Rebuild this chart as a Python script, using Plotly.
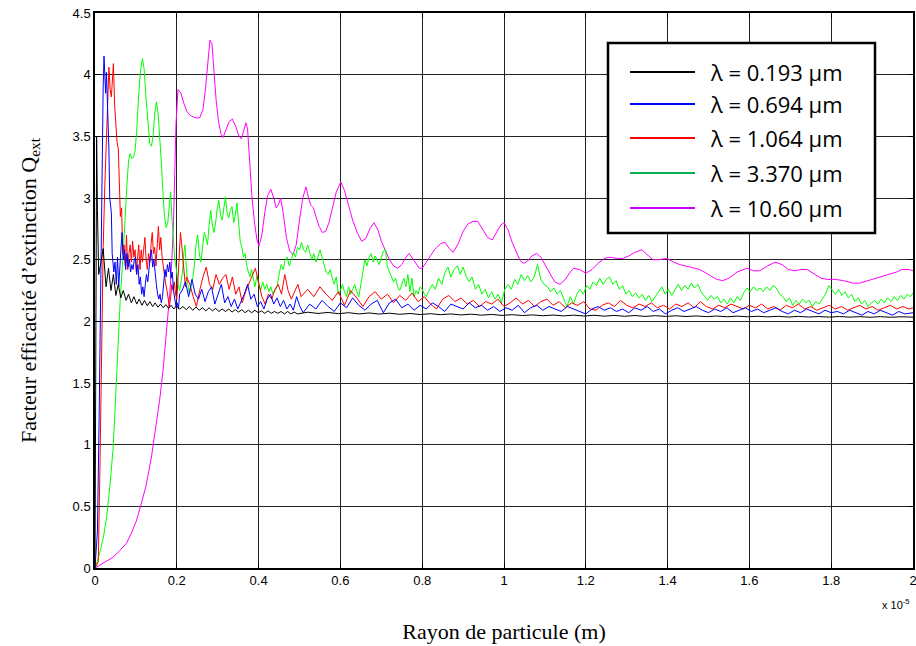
import plotly.graph_objects as go

# ---------------- data (radius in units of 1e-5 m, Q_ext) ----------------
r_black = [0, 0.002, 0.004, 0.006, 0.009, 0.013, 0.020, 0.027, 0.033, 0.039, 0.045, 0.051, 0.057, 0.063,
           0.069, 0.076, 0.082, 0.089, 0.095, 0.102, 0.108, 0.115, 0.121, 0.128, 0.134, 0.141, 0.147,
           0.154, 0.160, 0.167, 0.173, 0.180, 0.186, 0.193, 0.199, 0.207, 0.215, 0.223, 0.231, 0.239,
           0.247, 0.255, 0.263, 0.271, 0.279, 0.287, 0.295, 0.303, 0.311, 0.319, 0.327, 0.335, 0.343,
           0.351, 0.359, 0.367, 0.375, 0.383, 0.391, 0.399, 0.407, 0.415, 0.423, 0.431, 0.439, 0.447,
           0.455, 0.463, 0.471, 0.479, 0.487, 0.495,
           0.52, 0.545, 0.57, 0.595, 0.62, 0.645, 0.67, 0.695, 0.72, 0.745, 0.77, 0.795, 0.82, 0.845,
           0.87, 0.895, 0.92, 0.945, 0.97, 0.995, 1.02, 1.045, 1.07, 1.095, 1.12, 1.145, 1.17, 1.195,
           1.22, 1.245, 1.27, 1.295, 1.32, 1.345, 1.37, 1.395, 1.42, 1.445, 1.47, 1.495, 1.52, 1.545,
           1.57, 1.595, 1.62, 1.645, 1.67, 1.695, 1.72, 1.745, 1.77, 1.795, 1.82, 1.845, 1.87, 1.895,
           1.92, 1.945, 1.97, 2.0]
q_black = [0, 1.6, 3.5, 2.9, 2.38, 2.45, 2.59, 2.28, 2.43, 2.25, 2.38, 2.21, 2.30, 2.19,
           2.25, 2.17, 2.22, 2.15, 2.20, 2.14, 2.18, 2.13, 2.17, 2.125, 2.16, 2.12, 2.15,
           2.115, 2.14, 2.11, 2.135, 2.105, 2.13, 2.10, 2.125, 2.10, 2.12, 2.095, 2.12, 2.09,
           2.115, 2.09, 2.11, 2.085, 2.11, 2.085, 2.105, 2.08, 2.10, 2.08, 2.10, 2.075, 2.095,
           2.075, 2.095, 2.07, 2.09, 2.07, 2.09, 2.07, 2.085, 2.065, 2.085, 2.065, 2.08, 2.065,
           2.08, 2.06, 2.08, 2.06, 2.075, 2.06,
           2.074, 2.064, 2.072, 2.062, 2.070, 2.060, 2.068, 2.059, 2.066, 2.057, 2.064, 2.055, 2.062, 2.054,
           2.060, 2.052, 2.058, 2.050, 2.056, 2.048, 2.054, 2.047, 2.052, 2.045, 2.051, 2.044, 2.050, 2.043,
           2.049, 2.042, 2.048, 2.041, 2.047, 2.040, 2.046, 2.040, 2.045, 2.039, 2.044, 2.038, 2.043, 2.037,
           2.042, 2.037, 2.041, 2.036, 2.041, 2.035, 2.040, 2.035, 2.039, 2.034, 2.039, 2.034, 2.038, 2.033,
           2.038, 2.033, 2.037, 2.034]

r_blue = [0, 0.006, 0.010, 0.014, 0.017, 0.020, 0.022, 0.024, 0.026, 0.028, 0.030, 0.032, 0.034, 0.036,
          0.038, 0.040, 0.042, 0.044,
          0.046, 0.049, 0.052, 0.055, 0.058, 0.061, 0.064, 0.066, 0.069, 0.072, 0.075, 0.078, 0.081,
          0.084, 0.087, 0.090, 0.093, 0.096, 0.099, 0.102, 0.105, 0.108, 0.111, 0.114, 0.117, 0.120,
          0.123, 0.126, 0.129, 0.132, 0.135, 0.138, 0.141, 0.144, 0.147, 0.150, 0.153, 0.156, 0.159,
          0.162, 0.165, 0.168, 0.171, 0.174, 0.177, 0.180, 0.183, 0.186, 0.189, 0.192, 0.195, 0.198,
          0.201, 0.204, 0.207,
          0.213, 0.221, 0.229, 0.237, 0.245, 0.253, 0.261, 0.269, 0.277, 0.285, 0.293, 0.301, 0.309,
          0.317, 0.325, 0.333, 0.341, 0.349, 0.357, 0.365, 0.373, 0.381, 0.389, 0.397, 0.405, 0.413,
          0.421, 0.429, 0.437, 0.445, 0.453, 0.461, 0.469, 0.477, 0.485, 0.493, 0.501, 0.509,
          0.525, 0.540, 0.555, 0.570, 0.585, 0.600, 0.615, 0.630, 0.645, 0.660, 0.675, 0.690, 0.705,
          0.720, 0.735, 0.750, 0.765, 0.780, 0.795, 0.810, 0.825, 0.840, 0.855, 0.870, 0.885, 0.900,
          0.915, 0.930, 0.945, 0.960, 0.975, 0.990, 1.005, 1.020, 1.035, 1.050, 1.065, 1.080, 1.095,
          1.110, 1.125, 1.140, 1.155, 1.170, 1.185, 1.200, 1.215, 1.230, 1.245, 1.260, 1.275, 1.290,
          1.305, 1.320, 1.335, 1.350, 1.365, 1.380, 1.395, 1.410, 1.425, 1.440, 1.455, 1.470, 1.485,
          1.500, 1.515, 1.530, 1.545, 1.560, 1.575, 1.590, 1.605, 1.620, 1.635, 1.650, 1.665, 1.680,
          1.695, 1.710, 1.725, 1.740, 1.755, 1.770, 1.785, 1.800, 1.815, 1.830, 1.845, 1.860, 1.875,
          1.890, 1.905, 1.920, 1.935, 1.950, 1.965, 1.980, 2.000]
q_blue = [0, 0.3, 1.2, 2.4, 3.3, 3.9, 4.15, 4.0, 3.85, 4.02, 3.84, 3.5, 3.40, 3.0,
          2.93, 2.88, 2.55, 2.48,
          2.40, 2.48, 2.30, 2.52, 2.28, 2.45, 2.62, 2.72, 2.50, 2.58, 2.42, 2.55, 2.44,
          2.50, 2.40, 2.46, 2.42, 2.50, 2.52, 2.38, 2.46, 2.30, 2.36, 2.22, 2.28, 2.20,
          2.30, 2.38, 2.32, 2.45, 2.52, 2.58, 2.44, 2.50, 2.36, 2.30, 2.22, 2.18, 2.22,
          2.15, 2.20, 2.30, 2.42, 2.36, 2.46, 2.40, 2.48, 2.35, 2.40, 2.25, 2.18, 2.12,
          2.15, 2.10, 2.22,
          2.25, 2.32, 2.20, 2.34, 2.22, 2.18, 2.26, 2.16, 2.24, 2.28, 2.14, 2.22, 2.30,
          2.15, 2.20, 2.12, 2.18, 2.10, 2.16, 2.22, 2.30, 2.18, 2.22, 2.12, 2.16, 2.10,
          2.18, 2.22, 2.14, 2.19, 2.12, 2.17, 2.10, 2.14, 2.09, 2.20, 2.12, 2.07,
          2.14, 2.10, 2.17, 2.12, 2.08, 2.15, 2.11, 2.19, 2.13, 2.09, 2.14, 2.17, 2.07,
          2.15, 2.18, 2.11, 2.14, 2.09, 2.13, 2.10, 2.15, 2.12, 2.08, 2.14, 2.12, 2.10,
          2.15, 2.11, 2.13, 2.09, 2.12, 2.08, 2.11, 2.09, 2.13, 2.07, 2.11, 2.13, 2.09,
          2.12, 2.10, 2.08, 2.12, 2.10, 2.08, 2.06, 2.10, 2.12, 2.09, 2.11, 2.08, 2.10,
          2.07, 2.11, 2.09, 2.12, 2.08, 2.10, 2.06, 2.09, 2.11, 2.08, 2.10, 2.12, 2.09,
          2.07, 2.10, 2.08, 2.11, 2.07, 2.09, 2.11, 2.08, 2.10, 2.07, 2.09, 2.11, 2.08,
          2.06, 2.09, 2.07, 2.10, 2.08, 2.06, 2.09, 2.07, 2.08, 2.06, 2.09, 2.07, 2.05,
          2.08, 2.06, 2.09, 2.07, 2.05, 2.08, 2.06, 2.07]

r_red = [0, 0.008, 0.012, 0.016, 0.020, 0.024, 0.028, 0.031, 0.034, 0.037, 0.040, 0.043, 0.045, 0.048,
         0.051, 0.054, 0.057, 0.060, 0.062, 0.065, 0.068, 0.071,
         0.074, 0.077, 0.080, 0.083, 0.086, 0.089, 0.092, 0.095, 0.098, 0.101, 0.104, 0.107, 0.110,
         0.113, 0.116, 0.119, 0.122, 0.125, 0.128, 0.131, 0.134, 0.137, 0.140, 0.143, 0.146, 0.149,
         0.152, 0.155, 0.158, 0.161, 0.164, 0.167, 0.170, 0.173, 0.176, 0.179, 0.182, 0.185, 0.188,
         0.191, 0.194, 0.197, 0.200, 0.203, 0.206, 0.209, 0.212, 0.215, 0.218, 0.221,
         0.224, 0.232, 0.240, 0.248, 0.256, 0.264, 0.272, 0.280, 0.288, 0.296, 0.304, 0.312, 0.320,
         0.328, 0.336, 0.344, 0.352, 0.360, 0.368, 0.376, 0.384, 0.392, 0.400, 0.408, 0.416, 0.424,
         0.432, 0.440, 0.448, 0.456, 0.464, 0.472, 0.480, 0.488, 0.496, 0.504,
         0.520, 0.535, 0.550, 0.565, 0.580, 0.595, 0.610, 0.625, 0.640, 0.655, 0.670, 0.685, 0.700,
         0.715, 0.730, 0.745, 0.760, 0.775, 0.790, 0.805, 0.820, 0.835, 0.850, 0.865, 0.880, 0.895,
         0.910, 0.925, 0.940, 0.955, 0.970, 0.985, 1.000, 1.015, 1.030, 1.045, 1.060, 1.075, 1.090,
         1.105, 1.120, 1.135, 1.150, 1.165, 1.180, 1.195, 1.210, 1.225, 1.240, 1.255, 1.270, 1.285,
         1.300, 1.315, 1.330, 1.345, 1.360, 1.375, 1.390, 1.405, 1.420, 1.435, 1.450, 1.465, 1.480,
         1.495, 1.510, 1.525, 1.540, 1.555, 1.570, 1.585, 1.600, 1.615, 1.630, 1.645, 1.660, 1.675,
         1.690, 1.705, 1.720, 1.735, 1.750, 1.765, 1.780, 1.795, 1.810, 1.825, 1.840, 1.855, 1.870,
         1.885, 1.900, 1.915, 1.930, 1.945, 1.960, 1.975, 1.990, 2.000]
q_red = [0, 0.05, 0.8, 1.8, 2.6, 3.1, 3.5, 3.85, 4.06, 3.88, 3.82, 3.98, 4.09, 3.75,
         3.55, 3.45, 3.40, 3.05, 2.85, 2.92, 2.55, 2.62,
         2.45, 2.70, 2.42, 2.55, 2.62, 2.48, 2.65, 2.52, 2.58, 2.40, 2.55, 2.62, 2.42,
         2.58, 2.48, 2.60, 2.68, 2.50, 2.42, 2.55, 2.48, 2.62, 2.72, 2.55, 2.60, 2.45,
         2.62, 2.77, 2.58, 2.68, 2.52, 2.44, 2.38, 2.30, 2.25, 2.18, 2.12, 2.20, 2.30,
         2.25, 2.32, 2.22, 2.18, 2.35, 2.55, 2.72, 2.62, 2.50, 2.35, 2.28,
         2.36, 2.30, 2.20, 2.12, 2.25, 2.36, 2.44, 2.30, 2.26, 2.38, 2.30, 2.35, 2.38,
         2.26, 2.36, 2.22, 2.28, 2.15, 2.24, 2.30, 2.36, 2.43, 2.32, 2.20, 2.14, 2.22,
         2.18, 2.26, 2.30, 2.22, 2.38, 2.25, 2.18, 2.24, 2.30, 2.20,
         2.26, 2.20, 2.28, 2.22, 2.17, 2.24, 2.13, 2.25, 2.19, 2.12, 2.20, 2.24, 2.18,
         2.22, 2.15, 2.21, 2.17, 2.23, 2.16, 2.20, 2.14, 2.10, 2.18, 2.21, 2.16, 2.19,
         2.14, 2.17, 2.12, 2.16, 2.14, 2.18, 2.12, 2.15, 2.19, 2.14, 2.17, 2.12, 2.16,
         2.18, 2.13, 2.16, 2.11, 2.15, 2.13, 2.16, 2.10, 2.09, 2.13, 2.15, 2.12, 2.17,
         2.13, 2.11, 2.14, 2.12, 2.15, 2.11, 2.13, 2.10, 2.14, 2.12, 2.15, 2.11, 2.16,
         2.12, 2.10, 2.13, 2.11, 2.14, 2.12, 2.10, 2.13, 2.11, 2.14, 2.10, 2.12, 2.09,
         2.13, 2.11, 2.14, 2.10, 2.12, 2.09, 2.11, 2.13, 2.10, 2.12, 2.09, 2.11, 2.13,
         2.10, 2.12, 2.09, 2.11, 2.13, 2.10, 2.12, 2.10, 2.11]

r_green = [0, 0.010, 0.020, 0.028, 0.036, 0.044, 0.050, 0.056, 0.062, 0.068, 0.073, 0.078, 0.082,
           0.086, 0.090, 0.094, 0.098, 0.102, 0.107, 0.112, 0.116, 0.120, 0.125, 0.130, 0.134, 0.138,
           0.142, 0.146, 0.150, 0.154, 0.158, 0.162, 0.166, 0.170, 0.174, 0.178, 0.182, 0.185, 0.188,
           0.191, 0.195, 0.199, 0.203, 0.207, 0.211, 0.214, 0.217, 0.220, 0.223, 0.227, 0.231, 0.235,
           0.239, 0.243, 0.247, 0.251, 0.255, 0.259, 0.263, 0.267, 0.271, 0.275, 0.279, 0.283, 0.287,
           0.291, 0.295, 0.299, 0.303, 0.307, 0.311, 0.315, 0.319, 0.323, 0.327, 0.331, 0.335, 0.339,
           0.343, 0.347, 0.351, 0.355, 0.359, 0.363, 0.367, 0.371, 0.375, 0.379, 0.383, 0.387, 0.391,
           0.396, 0.400, 0.405, 0.410, 0.415, 0.420, 0.425, 0.430, 0.435, 0.440, 0.445, 0.450, 0.455,
           0.460, 0.465, 0.470, 0.475, 0.480, 0.485, 0.490, 0.495, 0.500, 0.505, 0.510, 0.515, 0.520,
           0.525, 0.530, 0.535, 0.540, 0.545, 0.550, 0.555, 0.560, 0.565, 0.570, 0.575, 0.580, 0.585,
           0.590, 0.595, 0.600, 0.605, 0.610, 0.615, 0.620, 0.625, 0.630, 0.635, 0.640, 0.645, 0.650,
           0.655, 0.660, 0.665, 0.670, 0.675, 0.680, 0.685, 0.690, 0.695, 0.700, 0.705, 0.710, 0.715,
           0.720, 0.725, 0.730, 0.735, 0.740, 0.745, 0.750, 0.755, 0.760, 0.765, 0.770, 0.775, 0.780,
           0.785, 0.790, 0.795, 0.800, 0.805, 0.810, 0.815,
           0.825, 0.832, 0.840, 0.848, 0.856, 0.863, 0.870, 0.878, 0.886, 0.893, 0.900, 0.908, 0.915,
           0.922, 0.930, 0.938, 0.946, 0.954, 0.962, 0.970, 0.978, 0.986, 0.994, 1.002, 1.010, 1.018,
           1.026, 1.034, 1.042, 1.050, 1.058, 1.066, 1.074, 1.082, 1.090, 1.098, 1.106, 1.114, 1.122,
           1.130, 1.138, 1.146, 1.154, 1.162, 1.170, 1.178, 1.186, 1.194, 1.202, 1.210, 1.218, 1.226,
           1.234, 1.242, 1.250, 1.258, 1.266, 1.274, 1.282, 1.290, 1.298, 1.306, 1.314, 1.322, 1.330,
           1.338, 1.346, 1.354, 1.362, 1.370, 1.378, 1.386, 1.394, 1.402, 1.410, 1.418, 1.426, 1.434,
           1.442, 1.450, 1.458, 1.466, 1.474, 1.482, 1.490, 1.498, 1.506, 1.514, 1.522, 1.530, 1.538,
           1.546, 1.554, 1.562, 1.570, 1.578, 1.586, 1.594, 1.602, 1.610, 1.618, 1.626, 1.634, 1.642,
           1.650, 1.658, 1.666, 1.674, 1.682, 1.690, 1.698, 1.706, 1.714, 1.722, 1.730, 1.738, 1.746,
           1.754, 1.762, 1.770, 1.778, 1.786, 1.794, 1.802, 1.810, 1.818, 1.826, 1.834, 1.842, 1.850,
           1.858, 1.866, 1.874, 1.882, 1.890, 1.898, 1.906, 1.914, 1.922, 1.930, 1.938, 1.946, 1.954,
           1.962, 1.970, 1.978, 1.986, 1.994, 2.000]
q_green = [0.00, 0.10, 0.24, 0.40, 0.65, 0.96, 1.35, 1.83, 2.20, 2.50, 2.85, 3.10, 3.30,
           3.36, 3.32, 3.33, 3.38, 3.55, 3.85, 4.05, 4.13, 4.05, 3.80, 3.55, 3.44, 3.42,
           3.50, 3.68, 3.78, 3.70, 3.52, 3.30, 3.05, 2.85, 2.76, 2.80, 2.95, 3.05, 2.85,
           2.65, 2.50, 2.42, 2.30, 2.25, 2.32, 2.40, 2.55, 2.62, 2.45, 2.30, 2.22, 2.28,
           2.35, 2.45, 2.62, 2.70, 2.55, 2.48, 2.58, 2.72, 2.68, 2.62, 2.78, 2.90, 2.78,
           2.72, 2.80, 2.92, 2.98, 2.86, 2.82, 2.93, 3.01, 2.88, 2.84, 2.90, 2.93, 2.80,
           2.86, 2.96, 2.82, 2.65, 2.60, 2.52, 2.55, 2.45, 2.40, 2.36, 2.42, 2.35, 2.28,
           2.37, 2.30, 2.25, 2.32, 2.26, 2.30, 2.24, 2.28, 2.22, 2.25, 2.28, 2.38, 2.46,
           2.42, 2.50, 2.52, 2.45, 2.50, 2.56, 2.52, 2.60, 2.58, 2.64, 2.58, 2.56, 2.62,
           2.55, 2.50, 2.55, 2.48, 2.52, 2.58, 2.52, 2.45, 2.40, 2.38, 2.42, 2.35, 2.30,
           2.36, 2.22, 2.25, 2.30, 2.24, 2.20, 2.28, 2.22, 2.26, 2.30, 2.24, 2.20, 2.30,
           2.42, 2.50, 2.45, 2.52, 2.55, 2.48, 2.53, 2.50, 2.46, 2.52, 2.57, 2.58, 2.44,
           2.40, 2.36, 2.32, 2.35, 2.28, 2.25, 2.30, 2.35, 2.28, 2.38, 2.24, 2.35, 2.20,
           2.25, 2.22, 2.28, 2.26, 2.22, 2.20, 2.24,
           2.30, 2.26, 2.35, 2.30, 2.40, 2.44, 2.36, 2.42, 2.45, 2.38, 2.44, 2.36, 2.32,
           2.36, 2.26, 2.30, 2.22, 2.26, 2.19, 2.24, 2.18, 2.22, 2.15, 2.26, 2.30, 2.26,
           2.34, 2.30, 2.38, 2.33, 2.37, 2.32, 2.36, 2.46, 2.34, 2.30, 2.28, 2.24, 2.27,
           2.22, 2.25, 2.18, 2.12, 2.20, 2.14, 2.22, 2.26, 2.22, 2.29, 2.26, 2.32, 2.29,
           2.35, 2.30, 2.34, 2.36, 2.30, 2.33, 2.26, 2.29, 2.22, 2.25, 2.20, 2.23, 2.19,
           2.22, 2.17, 2.21, 2.16, 2.20, 2.24, 2.28, 2.22, 2.26, 2.21, 2.26, 2.30, 2.25,
           2.29, 2.26, 2.31, 2.27, 2.30, 2.24, 2.20, 2.17, 2.21, 2.18, 2.20, 2.15, 2.18,
           2.14, 2.19, 2.15, 2.20, 2.17, 2.23, 2.27, 2.24, 2.28, 2.25, 2.27, 2.24, 2.28,
           2.25, 2.29, 2.27, 2.22, 2.20, 2.16, 2.19, 2.13, 2.17, 2.14, 2.18, 2.15, 2.17,
           2.12, 2.16, 2.14, 2.18, 2.22, 2.29, 2.25, 2.22, 2.26, 2.21, 2.24, 2.19, 2.22,
           2.16, 2.19, 2.14, 2.17, 2.12, 2.15, 2.17, 2.14, 2.18, 2.15, 2.19, 2.16, 2.20,
           2.17, 2.21, 2.18, 2.22, 2.20, 2.23]

r_mag = [0, 0.020, 0.044, 0.060, 0.077, 0.090, 0.101, 0.113, 0.125, 0.138, 0.150, 0.158, 0.166,
         0.175, 0.183, 0.188, 0.192, 0.195, 0.198, 0.203, 0.210, 0.218, 0.225, 0.233, 0.245, 0.256,
         0.264, 0.270, 0.276, 0.281, 0.286, 0.291, 0.296, 0.302, 0.308, 0.313, 0.320, 0.328, 0.336,
         0.344, 0.352, 0.358, 0.364, 0.369, 0.373, 0.378, 0.384, 0.390, 0.396, 0.401, 0.408, 0.415,
         0.422, 0.430, 0.437, 0.443, 0.449, 0.454, 0.460, 0.468, 0.476, 0.484, 0.492, 0.500, 0.508,
         0.516, 0.522, 0.528, 0.534, 0.541, 0.548, 0.556, 0.564, 0.572, 0.580, 0.590, 0.601, 0.610,
         0.620, 0.630, 0.641, 0.652, 0.662, 0.672, 0.682, 0.692, 0.700, 0.709, 0.720, 0.730, 0.740,
         0.750, 0.760, 0.768, 0.776, 0.785, 0.793, 0.800, 0.815, 0.830, 0.845, 0.856, 0.866, 0.876,
         0.888, 0.900, 0.912, 0.924, 0.936, 0.948, 0.960, 0.971, 0.982, 0.992, 1.000, 1.010, 1.020,
         1.030, 1.040, 1.048, 1.058, 1.068, 1.080, 1.090, 1.100, 1.112, 1.124, 1.137, 1.150, 1.160,
         1.170, 1.185, 1.200, 1.215, 1.230, 1.245, 1.260, 1.275, 1.290, 1.305, 1.320, 1.337, 1.350,
         1.364, 1.380, 1.398, 1.415, 1.430, 1.455, 1.479, 1.505, 1.520, 1.535, 1.550, 1.570, 1.594,
         1.610, 1.625, 1.645, 1.663, 1.680, 1.695, 1.711, 1.726, 1.741, 1.760, 1.775, 1.790, 1.810,
         1.830, 1.853, 1.870, 1.890, 1.919, 1.945, 1.960, 1.973, 1.990, 2.000]
q_mag = [0.00, 0.04, 0.087, 0.14, 0.20, 0.29, 0.38, 0.52, 0.67, 0.90, 1.16, 1.36, 1.59,
         1.90, 2.23, 2.50, 2.81, 3.20, 3.60, 3.88, 3.85, 3.76, 3.70, 3.67, 3.65, 3.65,
         3.72, 3.88, 4.10, 4.28, 4.25, 4.02, 3.80, 3.62, 3.52, 3.49, 3.55, 3.62, 3.64,
         3.58, 3.50, 3.48, 3.55, 3.61, 3.56, 3.30, 3.00, 2.80, 2.66, 2.61, 2.70, 2.88,
         3.02, 3.07, 3.00, 2.92, 2.95, 3.00, 2.88, 2.68, 2.57, 2.54, 2.62, 2.82, 3.00,
         3.09, 3.00, 2.94, 2.92, 2.84, 2.77, 2.72, 2.73, 2.80, 2.92, 3.05, 3.13, 3.06,
         2.94, 2.82, 2.72, 2.65, 2.67, 2.75, 2.80, 2.74, 2.65, 2.58, 2.50, 2.45, 2.43,
         2.46, 2.52, 2.55, 2.51, 2.46, 2.43, 2.43, 2.50, 2.58, 2.63, 2.64, 2.59, 2.56,
         2.63, 2.73, 2.79, 2.81, 2.81, 2.75, 2.68, 2.66, 2.72, 2.78, 2.80, 2.74, 2.64,
         2.56, 2.49, 2.47, 2.49, 2.53, 2.55, 2.52, 2.46, 2.38, 2.32, 2.30, 2.34, 2.39,
         2.43, 2.42, 2.39, 2.42, 2.47, 2.51, 2.52, 2.51, 2.51, 2.53, 2.56, 2.58, 2.54,
         2.50, 2.50, 2.51, 2.48, 2.46, 2.44, 2.42, 2.37, 2.34, 2.33, 2.35, 2.40, 2.43,
         2.41, 2.41, 2.45, 2.48, 2.46, 2.42, 2.41, 2.42, 2.42, 2.38, 2.35, 2.34, 2.34,
         2.33, 2.31, 2.31, 2.33, 2.36, 2.38, 2.40, 2.42, 2.42, 2.41]

series_names = ["λ = 0.193 μm", "λ = 0.694 μm", "λ = 1.064 μm", "λ = 3.370 μm", "λ = 10.60 μm"]
line_colors = ["#000000", "#0000FF", "#FF0000", "#00FF00", "#FF00FF"]
legend_colors = ["#000000", "#0000FF", "#FF0000", "#00B050", "#CC00FF"]
x_tick_vals = [0, 0.2, 0.4, 0.6, 0.8, 1.0, 1.2, 1.4, 1.6, 1.8, 2.0]
x_tick_text = ["0", "0.2", "0.4", "0.6", "0.8", "1", "1.2", "1.4", "1.6", "1.8", "2"]
y_tick_vals = [0, 0.5, 1, 1.5, 2, 2.5, 3, 3.5, 4, 4.5]
y_tick_text = ["0", "0.5", "1", "1.5", "2", "2.5", "3", "3.5", "4", "4.5"]

# ---------------- figure ----------------
fig = go.Figure()
all_r = [r_black, r_blue, r_red, r_green, r_mag]
all_q = [q_black, q_blue, q_red, q_green, q_mag]
draw_order = [4, 3, 2, 1, 0]
for i in draw_order:
    fig.add_trace(go.Scatter(
        x=all_r[i], y=all_q[i], mode="lines", name=series_names[i],
        line=dict(color=line_colors[i], width=1),
        showlegend=False, hoverinfo="skip"))

W, H = 916, 646
ml, mr, mt, mb = 95, 3, 13, 78
pw, ph = W - ml - mr, H - mt - mb


def px_x(px):
    return (px - ml) / pw


def px_y(py):
    return (H - mb - py) / ph


shapes = [dict(type="rect", xref="paper", yref="paper",
               x0=px_x(608), x1=px_x(875), y0=px_y(233), y1=px_y(43),
               line=dict(color="black", width=2.5), fillcolor="white", layer="above")]
annotations = []
row_y = [72, 104, 138, 173, 208]
for k in range(5):
    shapes.append(dict(type="line", xref="paper", yref="paper",
                       x0=px_x(630), x1=px_x(695), y0=px_y(row_y[k]), y1=px_y(row_y[k]),
                       line=dict(color=legend_colors[k], width=2), layer="above"))
    annotations.append(dict(xref="paper", yref="paper", x=px_x(708), y=px_y(row_y[k]),
                            xanchor="left", yanchor="middle", showarrow=False,
                            text=series_names[k],
                            font=dict(family="Open Sans, Lato, sans-serif", size=22, color="black")))

annotations.append(dict(xref="paper", yref="paper", x=px_x(912), y=px_y(604), xanchor="right",
                        yanchor="middle", showarrow=False, text="x 10<sup>-5</sup>",
                        font=dict(family="Liberation Sans Narrow, Liberation Sans, Arial", size=11,
                                  color="black")))

tickfont = dict(family="Liberation Sans Narrow, Liberation Sans, Arial", size=13, color="black")
fig.update_layout(
    width=W, height=H,
    margin=dict(l=ml, r=mr, t=mt, b=mb, autoexpand=False),
    paper_bgcolor="white", plot_bgcolor="white",
    shapes=shapes, annotations=annotations,
    xaxis=dict(range=[0, 2], tickvals=x_tick_vals, ticktext=x_tick_text, automargin=False,
               ticklabeloverflow="allow",
               showgrid=True, gridcolor="#222222", gridwidth=1, zeroline=False,
               showline=True, linecolor="black", linewidth=1.5, mirror="allticks",
               ticks="inside", ticklen=5, tickcolor="black", tickfont=tickfont,
               title=dict(text="Rayon de particule (m)", standoff=36,
                          font=dict(family="Liberation Serif, Times New Roman, serif", size=22,
                                    color="black"))),
    yaxis=dict(range=[0, 4.5], tickvals=y_tick_vals, ticktext=y_tick_text, automargin=False,
               ticklabeloverflow="allow",
               showgrid=True, gridcolor="#222222", gridwidth=1, zeroline=False,
               showline=True, linecolor="black", linewidth=1.5, mirror="allticks",
               ticks="inside", ticklen=5, tickcolor="black", tickfont=tickfont,
               title=dict(text="Facteur efficacité d’extinction Q<sub>ext</sub>", standoff=30,
                          font=dict(family="Liberation Serif, Times New Roman, serif", size=22,
                                    color="black"))),
)

fig.write_html("out.html", config={"displayModeBar": False},
               post_script="document.body.style.margin='0';document.body.style.overflow='hidden';")
